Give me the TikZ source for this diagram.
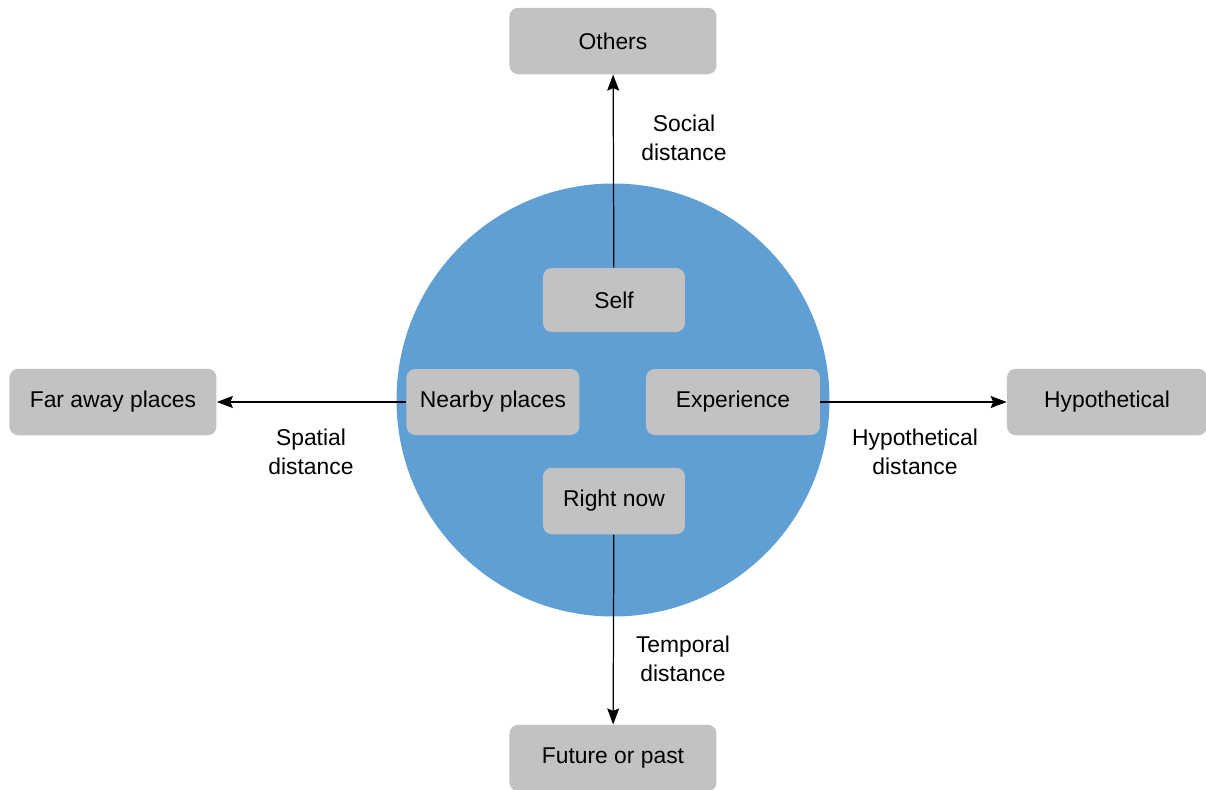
\documentclass[tikz,border=0pt]{standalone}
\usepackage{fontspec}
\setmainfont{Liberation Sans}
\usepackage{tikz}
\usetikzlibrary{positioning,arrows.meta}
\definecolor{ringblue}{HTML}{5F9FD3}
\definecolor{boxgray}{HTML}{C2C2C2}

\begin{document}
\begin{tikzpicture}[
    box/.style={fill=boxgray, rounded corners=5pt, minimum height=1.33cm,
                font=\fontsize{13}{16.4}\selectfont, align=center, inner sep=0pt},
    lbl/.style={font=\fontsize{13}{16.4}\selectfont, align=center},
    link/.style={-{Stealth[length=3.2mm,width=2.4mm,inset=0.5mm]}, line width=0.7pt},
]
\useasboundingbox (-12.26,8.0) rectangle (11.86,-7.78);
\fill[ringblue] (0,0) circle (4.33cm);
\node[box, minimum width=4.14cm] (others) at (0,7.18) {Others};
\node[box, minimum width=2.84cm, minimum height=1.28cm] (self) at (0.02,2.0) {Self};
\node[box, minimum width=3.46cm, minimum height=1.32cm] (nearby) at (-2.4,-0.04) {Nearby places};
\node[box, minimum width=3.48cm, minimum height=1.32cm] (exper) at (2.4,-0.04) {Experience};
\node[box, minimum width=2.84cm] (rightnow) at (0.02,-2.02) {Right now};
\node[box, minimum width=4.14cm] (faraway) at (-10.0,-0.04) {Far away places};
\node[box, minimum width=4.0cm] (hypo) at (9.88,-0.04) {Hypothetical};
\node[box, minimum width=4.14cm] (future) at (0,-7.16) {Future or past};
\draw[link] (self) -- (others);
\draw[link] (nearby) -- (faraway);
\draw[link] (exper) -- (hypo);
\draw[link] (rightnow) -- (future);
\node[lbl] (social) at (1.42,5.24) {Social\\distance};
\node[lbl] (spatial) at (-6.04,-1.04) {Spatial\\distance};
\node[lbl] (hypodist) at (6.04,-1.04) {Hypothetical\\distance};
\node[lbl] (temporal) at (1.40,-5.18) {Temporal\\distance};
\end{tikzpicture}
\end{document}
